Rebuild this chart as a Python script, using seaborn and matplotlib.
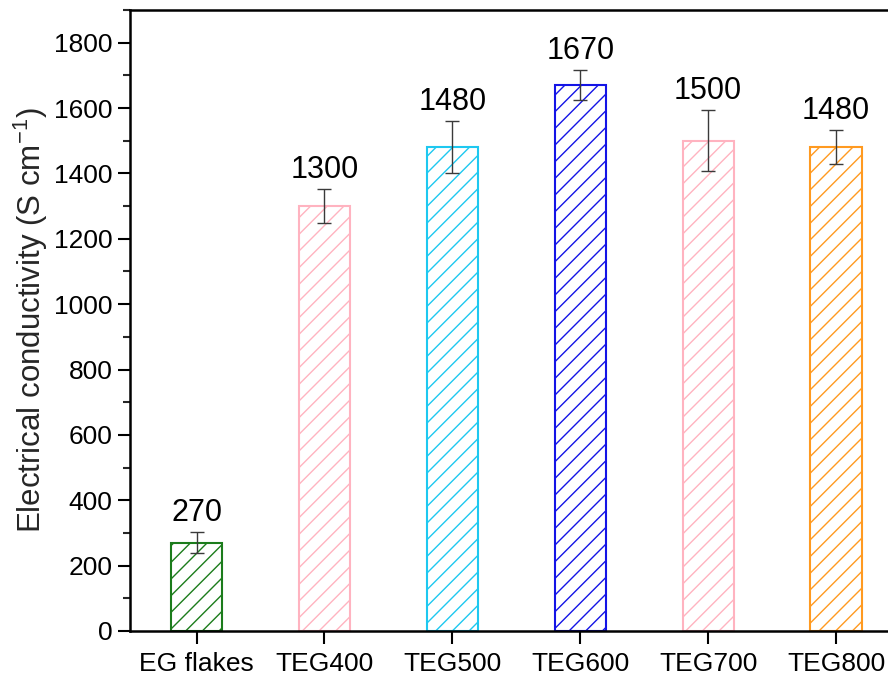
import matplotlib
matplotlib.use("Agg")
import matplotlib.pyplot as plt
import seaborn as sns
import pandas as pd
from matplotlib.ticker import MultipleLocator

categories = ["EG flakes", "TEG400", "TEG500", "TEG600", "TEG700", "TEG800"]
values = [270, 1300, 1480, 1670, 1500, 1480]
errors = [32, 52, 80, 45, 93, 52]
labels = ["270", "1300", "1480", "1670", "1500", "1480"]
colors = ["#1c7c1c", "#ffb3c0", "#1ec8f0", "#1414e6", "#ffb3c0", "#ff9a20"]

sns.set_theme(style="ticks")
plt.rcParams["font.family"] = ["Liberation Sans", "DejaVu Sans"]
plt.rcParams["hatch.linewidth"] = 1.0
plt.rcParams["mathtext.default"] = "regular"

df = pd.DataFrame({"cat": categories, "val": values})

fig = plt.figure(figsize=(8.88, 6.75), dpi=100)
ax = fig.add_axes([0.1464, 0.0652, 0.870, 0.920])

sns.barplot(data=df, x="cat", y="val", hue="cat", palette=colors, fill=False,
            width=0.4, linewidth=1.5, legend=False, ax=ax, errorbar=None)

for patch, c in zip(ax.patches, colors):
    patch.set_hatch("//")
    patch.set_edgecolor(c)
    patch.set_facecolor("none")

xs = list(range(len(categories)))
ax.errorbar(xs, values, yerr=errors, fmt="none", ecolor="#3a3a3a",
            elinewidth=1.0, capsize=5, capthick=1.0)

for x, v, e, t in zip(xs, values, errors, labels):
    ax.annotate(t, (x, v + e), xytext=(0, 3), textcoords="offset points",
                ha="center", va="bottom", fontsize=22, color="black")

ax.set_xlim(-0.52, 5.52)
ax.set_ylim(0, 1900)
ax.yaxis.set_major_locator(MultipleLocator(200))
ax.yaxis.set_minor_locator(MultipleLocator(100))
ax.set_xlabel("")
ax.set_ylabel("Electrical conductivity (S cm$^{-1}$)", fontsize=22.5)
ax.yaxis.set_label_coords(-0.104, 0.5)

for s in ["left", "bottom", "top", "right"]:
    ax.spines[s].set_visible(True)
    ax.spines[s].set_linewidth(1.8)
    ax.spines[s].set_color("black")

ax.tick_params(axis="both", which="major", direction="out", length=9, width=1.5,
               labelsize=19, colors="black")
ax.tick_params(axis="y", which="minor", direction="out", length=5, width=1.5)
ax.tick_params(axis="x", which="major", pad=6)

fig.savefig("out.png", dpi=100)
